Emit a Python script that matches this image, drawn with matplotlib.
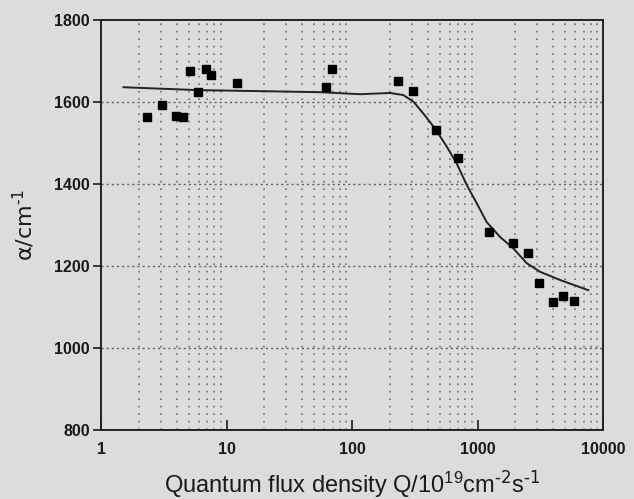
import matplotlib
matplotlib.use("Agg")
import matplotlib.pyplot as plt
import numpy as np
from matplotlib.ticker import FixedLocator, NullFormatter, FixedFormatter

# measured data (squares)
q_data = [2.34, 3.06, 3.96, 4.48, 5.12, 5.96, 6.82, 7.52, 12.2, 62.1, 69.7,
          231, 306, 467, 700, 1236, 1906, 2540, 3074, 4018, 4800, 5906]
alpha_data = [1564, 1593, 1567, 1564, 1676, 1624, 1681, 1666, 1647, 1637, 1680,
              1651, 1628, 1532, 1463, 1282, 1257, 1232, 1159, 1111, 1128, 1115]

# fitted curve
q_fit = [1.51, 5.93, 55.6, 116, 201, 256, 308, 370, 467, 569, 683, 820, 986,
         1184, 1511, 1928, 2466, 3148, 4540, 7640]
alpha_fit = [1636, 1629, 1624, 1619, 1622, 1617, 1601, 1572, 1532, 1491, 1450,
             1398, 1353, 1307, 1271, 1243, 1207, 1186, 1166, 1141]

x_ticks = [1, 10, 100, 1000, 10000]
x_ticklabels = ["1", "10", "100", "1000", "10000"]
y_ticks = [800, 1000, 1200, 1400, 1600, 1800]

bg = "#dcdcdc"
plt.rcParams['font.family'] = ['Liberation Sans', 'DejaVu Sans']
plt.rcParams['mathtext.default'] = 'regular'

fig = plt.figure(figsize=(6.34, 4.99), dpi=100, facecolor=bg)
ax = fig.add_axes([101/634, 1 - 430/499, (603-101)/634, (430-20)/499])
ax.set_facecolor(bg)

ax.set_xscale('log')
ax.set_xlim(1, 10000)
ax.set_ylim(800, 1800)

# grids
minor_x = [m * 10**d for d in range(4) for m in range(2, 10)]
for xv in minor_x:
    ax.axvline(xv, color='#707070', lw=1.2, ls=(0, (1, 3.5)), zorder=1)
for yv in y_ticks[1:-1]:
    ax.axhline(yv, color='#606060', lw=1.0, ls=(0, (1.5, 2.2)), zorder=1)

ax.plot(q_fit, alpha_fit, color='#222222', lw=1.4, zorder=3)
ax.plot(q_data, alpha_data, ls='none', marker='s', ms=6.2, color='black', zorder=4)

ax.xaxis.set_major_locator(FixedLocator(x_ticks))
ax.xaxis.set_major_formatter(FixedFormatter(x_ticklabels))
ax.xaxis.set_minor_locator(FixedLocator([]))
ax.xaxis.set_minor_formatter(NullFormatter())
ax.set_yticks(y_ticks)
ax.set_yticklabels([str(v) for v in y_ticks])

ax.tick_params(axis='x', direction='in', length=7, width=1.2, pad=9,
               labelsize=11.5, colors='#1a1a1a')
ax.tick_params(axis='y', direction='out', length=6, width=1.2, pad=2,
               labelsize=11.5, colors='#1a1a1a')
for lab in ax.get_xticklabels() + ax.get_yticklabels():
    lab.set_fontweight('bold')

for s in ax.spines.values():
    s.set_linewidth(1.4)
    s.set_color('#222222')

ax.set_xlabel(r"Quantum flux density Q/10$^{19}$cm$^{\text{-2}}$s$^{\text{-1}}$",
              fontsize=17, labelpad=8, color='#1a1a1a')
ax.set_ylabel(r"α/cm$^{\text{-1}}$", fontsize=16, labelpad=12, color='#1a1a1a',
              family=['DejaVu Sans'])

fig.savefig("out.png", dpi=100, facecolor=bg)
